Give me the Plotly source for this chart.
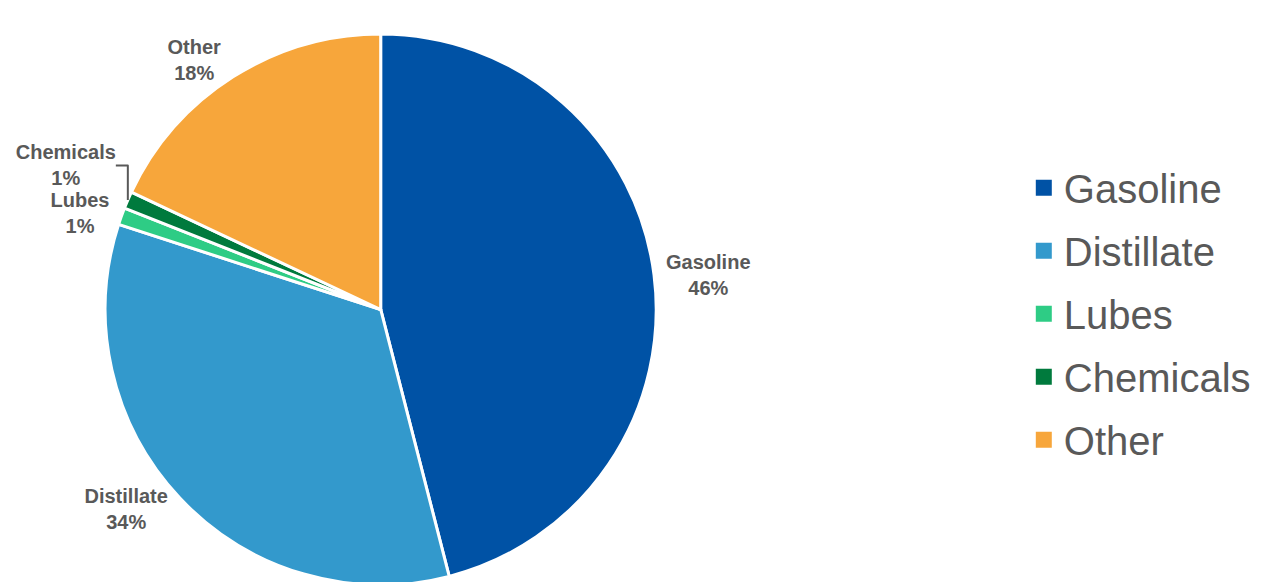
import plotly.graph_objects as go

categories = ["Gasoline", "Distillate", "Lubes", "Chemicals", "Other"]
shares = [46, 34, 1, 1, 18]
colors = ["#0052a5", "#3399cc", "#2ecc85", "#007a3d", "#f7a63b"]

fig = go.Figure(go.Pie(
    labels=categories, values=shares, sort=False, direction="clockwise", rotation=0,
    marker=dict(colors=colors, line=dict(color="white", width=3)),
    texttemplate="<b>%{label}<br>%{percent:.0%}</b>", textposition="outside",
    textfont=dict(family="Liberation Sans, Arial", size=20, color="#595959"),
    domain=dict(x=[0.07, 0.51], y=[0.0, 0.955]),
    showlegend=False,
))
fig.update_traces(outsidetextfont=dict(color="#595959"))

# legend swatches as square markers
for name, col in zip(categories, colors):
    fig.add_trace(go.Scatter(
        x=[None], y=[None], mode="markers", name=name, legendgroup=name,
        marker=dict(symbol="square", size=18, color=col),
    ))

fig.update_layout(
    width=1268, height=582, margin=dict(l=0, r=0, t=0, b=0),
    paper_bgcolor="white", plot_bgcolor="white",
    xaxis=dict(visible=False), yaxis=dict(visible=False),
    legend=dict(x=0.8, y=0.47, xanchor="left", yanchor="middle",
                font=dict(family="Liberation Sans, Arial", size=40, color="#595959"),
                tracegroupgap=8, itemwidth=30),
)
fig.write_html("out.html")
